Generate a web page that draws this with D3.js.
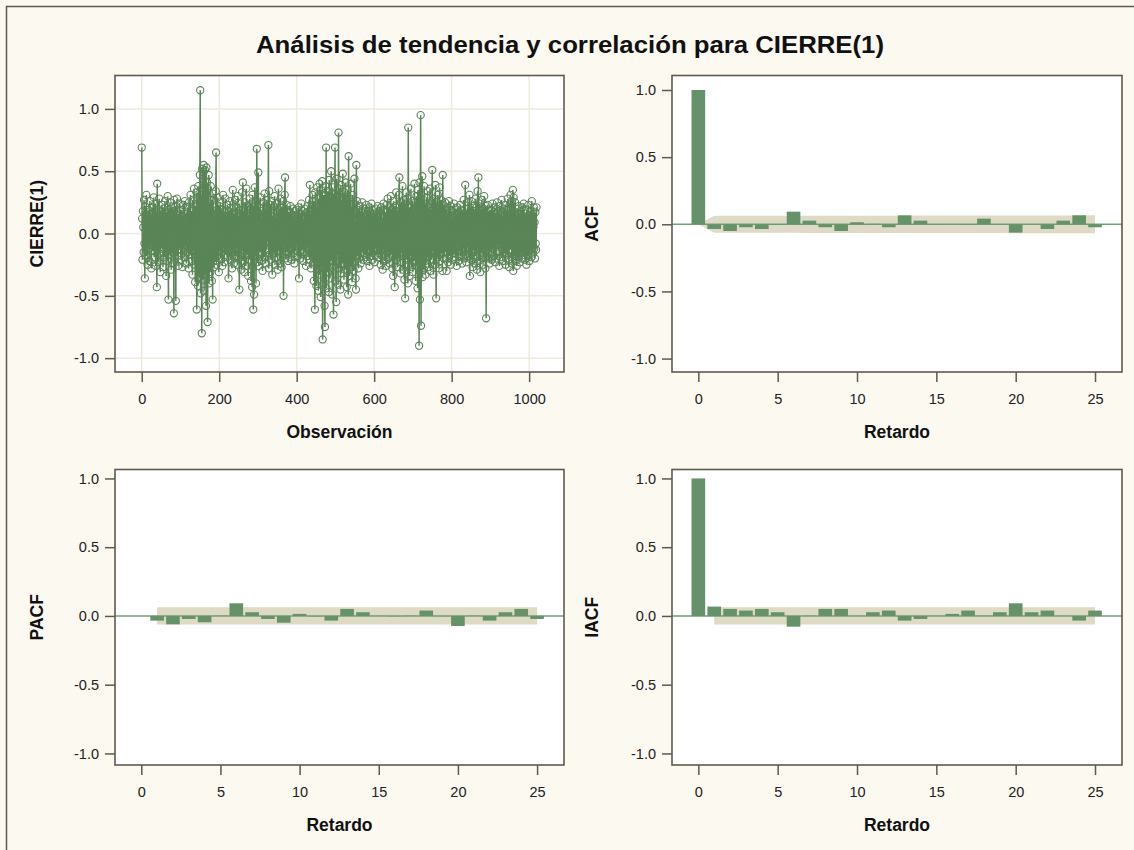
<!DOCTYPE html>
<html><head><meta charset="utf-8">
<script src="https://cdn.jsdelivr.net/npm/d3@7"></script>
<style>body{margin:0;background:#FCF9F1;} svg{display:block;}</style>
</head><body>
<svg id="c" width="1134" height="850"></svg>
<script>
// ---- data ----
const seriesValues=[
0.69,0.12,-0.21,0.18,0.05,-0.15,0.27,-0.08,-0.36,0.22,0.09,-0.18,0.31,-0.04,0.14,-0.25,0.07,0.19,-0.12,0.03,
-0.22,0.26,0.11,-0.09,0.16,-0.28,0.04,0.21,-0.14,0.08,-0.03,0.29,-0.19,0.13,-0.07,0.24,-0.26,0.06,0.17,-0.43,
0.40,-0.11,0.15,-0.23,0.02,0.28,-0.16,0.09,-0.31,0.18,0.05,-0.12,0.23,-0.06,0.11,-0.27,0.20,-0.02,0.14,-0.19,
0.26,-0.08,0.12,-0.34,0.17,0.04,-0.22,0.30,-0.13,-0.53,0.19,0.08,-0.17,0.25,-0.05,0.13,-0.29,0.21,0.01,-0.15,
0.18,-0.24,0.09,-0.64,0.27,-0.11,0.06,0.22,-0.54,0.15,-0.03,0.28,-0.18,0.10,-0.26,0.16,0.03,-0.13,0.24,-0.07,
0.11,-0.21,0.19,-0.02,0.14,-0.27,0.08,0.23,-0.12,0.05,-0.19,0.26,-0.09,0.12,0.02,-0.24,0.17,-0.06,0.21,-0.15,
0.09,-0.28,0.25,-0.04,0.13,-0.17,0.31,-0.10,0.06,-0.22,0.18,-0.33,0.27,0.04,-0.14,0.36,-0.25,0.11,-0.39,0.22,
-0.18,0.33,-0.61,0.29,0.12,-0.42,0.38,-0.27,0.19,-0.35,0.47,1.15,-0.48,0.31,0.08,-0.80,0.52,-0.37,0.44,-0.21,
0.55,-0.46,0.28,0.51,-0.33,0.12,-0.58,0.53,-0.29,0.41,-0.71,0.36,-0.19,0.47,-0.40,0.24,0.09,-0.31,0.38,-0.16,
0.27,-0.38,0.19,-0.53,0.32,-0.12,0.21,-0.27,0.15,0.06,-0.22,0.34,0.65,-0.25,0.11,-0.18,0.29,-0.09,0.16,-0.31,
0.22,-0.14,0.07,0.25,-0.20,0.13,-0.06,0.19,-0.26,0.09,0.31,-0.11,0.04,-0.23,0.17,-0.08,0.28,-0.17,0.02,0.14,
-0.19,0.23,-0.05,0.10,-0.36,0.18,0.06,-0.13,0.26,-0.21,0.08,-0.02,0.20,-0.28,0.12,0.35,-0.15,0.05,-0.24,0.16,
-0.07,0.27,-0.18,0.09,0.21,-0.12,0.03,-0.25,0.30,-0.09,0.14,-0.20,-0.45,0.24,0.06,-0.16,0.19,-0.29,0.11,0.33,
-0.13,0.41,-0.22,0.07,0.18,-0.31,0.25,-0.04,0.13,-0.26,0.36,-0.17,0.09,-0.08,0.22,-0.34,0.15,0.02,-0.21,0.28,
-0.12,0.19,-0.38,0.24,0.05,-0.43,0.31,-0.27,-0.61,0.22,-0.49,0.14,0.37,-0.18,0.26,-0.40,0.09,0.68,-0.23,0.17,
-0.11,0.49,-0.26,0.08,0.21,-0.15,0.29,-0.07,0.13,-0.22,0.04,0.18,-0.30,0.25,-0.09,0.12,-0.19,0.32,-0.04,0.16,
-0.24,0.09,0.27,-0.13,0.20,-0.06,0.15,0.71,-0.28,0.34,-0.17,0.07,0.23,-0.21,0.11,-0.02,0.26,-0.33,0.14,0.05,
-0.16,0.22,-0.08,0.30,-0.25,0.12,0.03,-0.19,0.24,-0.11,0.17,-0.29,0.08,0.36,-0.14,0.19,-0.05,-0.24,0.28,-0.10,
0.13,-0.27,0.21,0.06,-0.17,0.26,-0.50,0.18,-0.09,0.31,0.45,-0.20,0.11,-0.03,0.23,-0.15,0.07,0.19,-0.22,0.14,
-0.06,0.17,-0.19,0.09,0.22,-0.12,0.04,-0.21,0.15,-0.02,0.20,-0.16,0.08,0.13,-0.24,0.18,-0.07,0.11,-0.14,0.05,
0.19,-0.10,0.14,-0.18,0.07,0.21,-0.36,0.12,-0.05,0.16,-0.20,0.03,0.24,-0.13,0.09,-0.08,0.18,-0.22,0.11,0.01,
-0.15,0.20,-0.04,0.13,-0.26,0.17,0.06,-0.11,0.22,-0.18,0.10,-0.02,0.27,-0.21,0.39,-0.09,0.15,-0.28,0.08,0.23,
-0.17,0.31,-0.24,0.12,-0.38,0.26,0.05,-0.61,0.33,-0.19,0.21,-0.42,0.14,0.37,-0.29,0.09,-0.46,0.28,-0.12,0.40,
-0.33,0.18,-0.51,0.35,0.07,-0.27,0.42,-0.85,0.24,-0.40,0.31,0.12,-0.58,-0.75,0.38,-0.20,0.69,-0.44,0.27,-0.16,
0.34,-0.31,0.15,-0.47,0.43,0.08,-0.36,0.29,-0.22,0.50,-0.13,0.21,-0.49,0.37,0.06,-0.65,0.32,-0.26,0.19,0.69,
-0.38,0.25,-0.55,0.44,-0.17,0.30,0.11,-0.41,0.81,-0.28,0.36,-0.14,0.22,-0.45,0.39,0.05,-0.32,0.27,-0.19,0.48,
-0.24,0.16,-0.37,0.33,0.09,-0.29,0.41,-0.11,0.26,-0.43,0.19,0.35,-0.21,-0.49,0.62,-0.16,0.28,-0.34,0.13,0.40,
-0.27,0.21,0.07,-0.39,0.31,-0.12,0.24,-0.30,0.17,0.44,-0.22,0.10,-0.36,-0.45,0.55,-0.18,0.26,-0.08,0.19,-0.28,
0.14,-0.20,0.22,-0.07,0.11,-0.24,0.18,0.03,-0.15,0.25,-0.11,0.08,-0.21,0.16,-0.04,0.20,-0.17,0.12,0.02,-0.19,
0.23,-0.09,0.15,-0.22,0.06,0.18,-0.13,0.21,-0.26,0.10,-0.03,0.17,-0.18,0.24,-0.08,0.13,-0.21,0.07,0.19,-0.14,
0.09,-0.23,0.16,0.04,-0.12,0.20,-0.17,0.11,-0.06,0.22,-0.19,0.13,0.01,-0.16,0.18,-0.09,0.14,-0.25,0.21,-0.05,
0.12,-0.18,-0.29,0.07,0.24,-0.13,0.19,-0.22,0.10,-0.02,0.17,-0.26,0.23,0.05,-0.15,0.28,-0.20,0.09,-0.11,0.21,
-0.24,0.15,-0.07,0.30,-0.17,0.08,0.19,-0.28,0.12,-0.34,0.26,-0.10,0.17,-0.43,0.22,0.04,-0.21,0.33,-0.14,0.09,
-0.27,0.18,0.06,-0.19,0.31,0.45,-0.23,0.14,-0.32,0.25,-0.08,0.20,-0.16,0.38,-0.29,0.11,-0.05,0.27,-0.37,0.16,
-0.52,0.24,-0.13,0.33,-0.21,0.09,0.28,-0.40,0.85,-0.25,0.17,-0.34,0.21,0.04,-0.18,0.36,-0.27,0.13,-0.09,0.26,
-0.31,0.19,0.07,-0.22,0.40,-0.15,0.25,-0.38,0.12,0.30,-0.26,0.18,-0.44,0.35,-0.11,0.23,-0.90,0.41,-0.53,0.22,
0.95,-0.74,0.31,-0.20,0.46,-0.35,0.14,0.27,-0.29,0.38,-0.16,0.09,-0.33,0.24,-0.06,0.29,-0.24,0.17,0.34,-0.19,
0.12,-0.27,0.21,-0.10,0.36,-0.30,0.15,0.04,-0.21,0.26,0.51,-0.14,0.19,-0.33,0.28,-0.08,0.22,-0.25,0.39,-0.17,
-0.52,0.25,0.08,-0.19,0.31,-0.13,0.20,-0.28,0.14,0.37,-0.22,0.06,-0.16,0.27,-0.09,0.18,-0.30,0.47,-0.11,0.23,
-0.20,0.12,-0.07,0.25,-0.15,0.19,0.02,-0.30,0.21,-0.12,0.16,-0.23,0.08,0.26,-0.18,0.10,-0.05,0.22,-0.25,0.14,
-0.09,0.18,-0.21,0.11,0.03,-0.16,0.24,-0.13,0.07,-0.19,0.20,-0.04,0.15,-0.26,0.12,0.21,-0.10,0.06,-0.22,0.17,
-0.14,0.09,0.23,-0.18,0.13,-0.07,0.19,-0.24,0.05,0.16,-0.12,0.27,-0.20,0.10,-0.02,0.39,-0.17,0.14,-0.23,0.08,
0.20,-0.11,0.25,-0.19,0.12,-0.06,0.31,-0.34,0.17,0.03,-0.21,0.26,-0.15,0.09,-0.27,0.22,0.07,-0.13,0.18,-0.24,
0.13,-0.08,0.28,-0.18,0.21,-0.29,0.10,0.34,-0.12,0.45,-0.22,0.16,-0.05,0.24,-0.31,0.19,0.02,-0.16,0.27,-0.09,
0.14,-0.25,0.20,-0.11,0.30,-0.19,0.07,-0.28,0.22,-0.68,0.17,-0.13,0.09,0.23,-0.20,0.12,-0.04,0.18,-0.24,0.10,
-0.15,0.19,-0.07,0.13,-0.21,0.24,0.03,-0.12,0.17,-0.18,0.08,0.21,-0.23,0.11,-0.05,0.16,-0.20,0.25,-0.09,0.06,
0.18,-0.14,0.10,-0.26,0.22,-0.08,0.15,0.02,-0.19,0.27,-0.11,0.13,-0.22,0.07,0.20,-0.16,0.09,-0.03,0.23,-0.25,
0.12,-0.10,0.19,-0.17,0.06,0.28,-0.21,0.14,-0.27,0.09,0.24,-0.13,0.31,-0.06,0.17,-0.24,0.26,0.03,0.35,-0.30,
0.29,-0.18,0.11,-0.09,0.25,-0.22,0.15,0.05,-0.26,0.20,-0.12,0.08,-0.19,0.22,-0.04,0.16,-0.23,0.12,0.18,-0.15,
0.07,-0.20,0.21,-0.08,0.13,-0.17,0.24,-0.11,0.04,-0.21,0.16,0.09,-0.14,-0.25,0.19,-0.06,0.12,-0.18,0.23,-0.10,
0.15,-0.22,0.08,0.18,-0.13,0.10,-0.19,0.26,-0.07,0.14,-0.16,0.05,0.21,-0.12,0.09,-0.20,0.17,-0.08,-0.13,0.21
];
const obsTicks=[0,200,400,600,800,1000];
const corrTicks=[-1,-0.5,0,0.5,1];
const lagTicks=[0,5,10,15,20,25];

const acfLags=[0,1,2,3,4,5,6,7,8,9,10,11,12,13,14,15,16,17,18,19,20,21,22,23,24,25];
const acfValues=[1.0,-0.035,-0.050,-0.022,-0.035,-0.004,0.094,0.027,-0.022,-0.050,0.015,0.003,-0.022,0.067,0.027,0.002,0.001,-0.003,0.042,0.002,-0.062,0.001,-0.035,0.027,0.067,-0.022];
const acfBand=[0,0.063,0.063,0.063,0.063,0.063,0.063,0.064,0.064,0.064,0.064,0.064,0.064,0.064,0.065,0.065,0.065,0.065,0.065,0.065,0.066,0.066,0.066,0.066,0.066,0.067];

const pacfLags=[1,2,3,4,5,6,7,8,9,10,11,12,13,14,15,16,17,18,19,20,21,22,23,24,25];
const pacfValues=[-0.034,-0.061,-0.022,-0.046,0.002,0.092,0.027,-0.022,-0.049,0.015,-0.003,-0.034,0.051,0.027,0.001,-0.002,0.002,0.039,-0.001,-0.073,0.002,-0.034,0.027,0.051,-0.022];
const pacfBand=[0.063,0.063,0.063,0.063,0.063,0.063,0.063,0.063,0.063,0.063,0.063,0.063,0.063,0.063,0.063,0.063,0.063,0.063,0.063,0.063,0.063,0.063,0.063,0.063,0.063];

const iacfLags=[0,1,2,3,4,5,6,7,8,9,10,11,12,13,14,15,16,17,18,19,20,21,22,23,24,25];
const iacfValues=[1.0,0.068,0.051,0.039,0.051,0.027,-0.078,0.002,0.051,0.051,0.001,0.027,0.039,-0.034,-0.022,0.001,0.015,0.039,0.002,0.027,0.092,0.027,0.039,0.001,-0.034,0.039];
const iacfBandLags=[1,2,3,4,5,6,7,8,9,10,11,12,13,14,15,16,17,18,19,20,21,22,23,24,25];
const iacfBand=[0.063,0.063,0.063,0.063,0.063,0.063,0.063,0.063,0.063,0.063,0.063,0.063,0.063,0.063,0.063,0.063,0.063,0.063,0.063,0.063,0.063,0.063,0.063,0.063,0.063];

// ---- style ----
const FONT='"Liberation Sans", Arial, Helvetica, sans-serif';
const GREEN='#5A8557', BAR='#66926A', BAND='#DEDAC5', FRAME='#5F5A4E', GRID='#EEEADC', ZERO='#72A076';

const svg=d3.select('#c');
svg.append('rect').attr('width',1134).attr('height',850).attr('fill','#FCF9F1');
svg.append('rect').attr('x',6.5).attr('y',6.5).attr('width',1160).attr('height',880)
  .attr('fill','none').attr('stroke',FRAME).attr('stroke-width',1.5);
svg.append('text').attr('x',570).attr('y',53).attr('text-anchor','middle')
  .attr('font-family',FONT).attr('font-weight','bold').attr('font-size',23).attr('fill','#111')
  .attr('textLength',628).attr('lengthAdjust','spacingAndGlyphs')
  .text('Análisis de tendencia y correlación para CIERRE(1)');

function panel(o){
  const x=d3.scaleLinear().domain(o.xDomain).range([o.x0,o.x1]);
  const y=d3.scaleLinear().domain(o.yDomain).range([o.y1,o.y0]);
  const g=svg.append('g');
  g.append('rect').attr('x',o.x0).attr('y',o.y0).attr('width',o.x1-o.x0).attr('height',o.y1-o.y0).attr('fill','#fff');
  g.append('clipPath').attr('id','clip'+o.id).append('rect')
    .attr('x',o.x0).attr('y',o.y0).attr('width',o.x1-o.x0).attr('height',o.y1-o.y0);
  const plot=g.append('g').attr('clip-path',`url(#clip${o.id})`);
  if(o.grid){
    plot.selectAll('.gx').data(o.xTicks).join('line').attr('x1',d=>x(d)).attr('x2',d=>x(d))
      .attr('y1',o.y0).attr('y2',o.y1).attr('stroke',GRID).attr('stroke-width',1.5);
    plot.selectAll('.gy').data(o.yTicks).join('line').attr('y1',d=>y(d)).attr('y2',d=>y(d))
      .attr('x1',o.x0).attr('x2',o.x1).attr('stroke',GRID).attr('stroke-width',1.5);
  }
  o.draw(plot,x,y,o);
  g.append('rect').attr('x',o.x0).attr('y',o.y0).attr('width',o.x1-o.x0).attr('height',o.y1-o.y0)
    .attr('fill','none').attr('stroke',FRAME).attr('stroke-width',1.6);
  const xa=g.append('g').attr('transform',`translate(0,${o.y1})`)
    .call(d3.axisBottom(x).tickValues(o.xTicks).tickSize(10).tickPadding(12).tickFormat(d3.format('d')));
  const ya=g.append('g').attr('transform',`translate(${o.x0},0)`)
    .call(d3.axisLeft(y).tickValues(o.yTicks).tickSize(10).tickPadding(6).tickFormat(d=>d.toFixed(1)));
  [xa,ya].forEach(a=>{
    a.select('.domain').remove();
    a.selectAll('line').attr('stroke',FRAME).attr('stroke-width',1.5);
    a.selectAll('text').attr('font-family',FONT).attr('font-size',14.5).attr('fill','#222');
  });
  g.append('text').attr('x',(o.x0+o.x1)/2).attr('y',o.y1+66).attr('text-anchor','middle')
    .attr('font-family',FONT).attr('font-weight','bold').attr('font-size',17.5).attr('fill','#111').text(o.xTitle);
  g.append('text').attr('transform',`translate(${o.yTitleX},${(o.y0+o.y1)/2}) rotate(-90)`)
    .attr('text-anchor','middle').attr('font-family',FONT).attr('font-weight','bold')
    .attr('font-size',17.5).attr('fill','#111').text(o.yTitle);
}

function drawSeries(p,x,y){
  const pts=seriesValues.map((v,i)=>[i,v]);
  p.append('path').attr('d',d3.line().x(d=>x(d[0])).y(d=>y(d[1]))(pts))
    .attr('fill','none').attr('stroke',GREEN).attr('stroke-width',1.5);
  p.selectAll('circle').data(pts).join('circle').attr('cx',d=>x(d[0])).attr('cy',d=>y(d[1]))
    .attr('r',3.6).attr('fill','none').attr('stroke',GREEN).attr('stroke-width',1.1);
}

function corrDraw(lags,vals,bandLags,band){
  return function(p,x,y,o){
    const bl=bandLags.map((l,i)=>[l,band[i]]);
    p.append('path').attr('d',d3.area().x(d=>x(d[0])).y0(d=>y(-d[1])).y1(d=>y(d[1]))(bl))
      .attr('fill',BAND);
    p.append('line').attr('x1',o.x0).attr('x2',o.x1).attr('y1',y(0)).attr('y2',y(0))
      .attr('stroke',ZERO).attr('stroke-width',1.5);
    const w=x(0.86)-x(0);
    p.selectAll('.bar').data(lags.map((l,i)=>[l,vals[i]])).join('rect')
      .attr('x',d=>x(d[0])-w/2).attr('width',w)
      .attr('y',d=>y(Math.max(0,d[1]))).attr('height',d=>Math.abs(y(d[1])-y(0)))
      .attr('fill',BAR);
  };
}

const lagDom=[-1.66,26.7];
panel({id:1,x0:115,x1:564,y0:75.5,y1:372,xDomain:[-69,1090],yDomain:[-1.111,1.268],
  xTicks:obsTicks,yTicks:corrTicks,grid:true,xTitle:'Observación',yTitle:'CIERRE(1)',yTitleX:43,draw:drawSeries});
panel({id:2,x0:672,x1:1122,y0:75.5,y1:372,xDomain:lagDom,yDomain:[-1.100,1.108],
  xTicks:lagTicks,yTicks:corrTicks,xTitle:'Retardo',yTitle:'ACF',yTitleX:598,draw:corrDraw(acfLags,acfValues,acfLags,acfBand)});
panel({id:3,x0:115,x1:564,y0:469.5,y1:765,xDomain:lagDom,yDomain:[-1.084,1.065],
  xTicks:lagTicks,yTicks:corrTicks,xTitle:'Retardo',yTitle:'PACF',yTitleX:43,draw:corrDraw(pacfLags,pacfValues,pacfLags,pacfBand)});
panel({id:4,x0:672,x1:1122,y0:469.5,y1:765,xDomain:lagDom,yDomain:[-1.084,1.065],
  xTicks:lagTicks,yTicks:corrTicks,xTitle:'Retardo',yTitle:'IACF',yTitleX:598,draw:corrDraw(iacfLags,iacfValues,iacfBandLags,iacfBand)});
</script>
</body></html>
